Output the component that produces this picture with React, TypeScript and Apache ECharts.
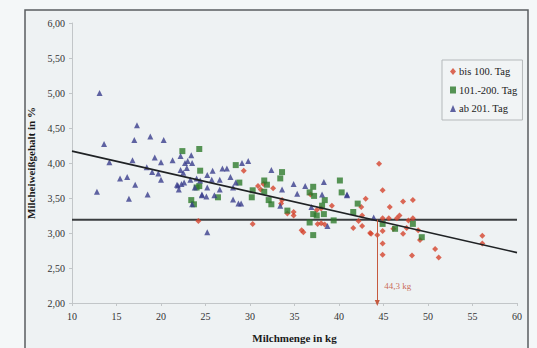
import React, { useEffect, useRef } from "react";
import * as echarts from "echarts";

const xTicks = { min: 10, max: 60, interval: 5 };
const yTicks = { min: 2, max: 6, interval: 0.5 };

const seriesNames = ["bis 100. Tag", "101.-200. Tag", "ab 201. Tag"];

const early: number[][] = [
  [24.2, 3.17], [29.3, 3.89], [30.3, 3.13], [30.9, 3.67], [31.2, 3.62], [31.5, 3.7], [32.6, 3.64],
  [33.6, 3.47], [33.5, 3.42], [34.2, 3.28], [34.9, 3.3], [34.9, 3.25], [35.8, 3.04], [36.0, 3.01],
  [36.8, 3.55], [37.5, 3.33], [38.0, 3.35], [39.2, 3.39], [37.6, 3.13], [38.0, 3.14], [38.4, 3.12],
  [41.6, 3.07], [42.6, 3.1], [42.5, 3.37], [43.0, 3.49], [42.6, 3.25], [42.2, 3.17], [43.5, 3.0],
  [43.6, 2.99], [44.3, 2.97], [44.5, 3.99], [44.9, 3.61], [44.9, 3.03], [44.9, 2.85], [44.9, 2.69],
  [44.9, 3.21], [45.6, 3.21], [45.7, 3.37], [46.1, 3.06], [46.5, 3.21], [46.8, 3.25], [47.2, 3.45],
  [47.2, 2.99], [47.6, 3.07], [47.8, 3.18], [48.2, 2.68], [48.3, 3.47], [48.3, 3.21], [48.9, 3.04],
  [49.1, 2.9], [50.8, 2.77], [51.2, 2.65], [56.1, 2.96], [56.1, 2.85],
];

const mid: number[][] = [
  [22.4, 4.17], [24.3, 4.2], [24.4, 3.89], [24.3, 3.67], [24.0, 3.65], [23.4, 3.47], [23.7, 3.41],
  [26.4, 3.51], [28.4, 3.97], [28.8, 3.72], [30.2, 3.51], [30.3, 3.61], [31.6, 3.75], [31.9, 3.69],
  [31.6, 3.59], [32.1, 3.47], [32.4, 3.41], [33.6, 3.87], [33.4, 3.78], [34.2, 3.32], [36.7, 3.58],
  [37.1, 3.66], [37.2, 3.53], [38.4, 3.47], [38.1, 3.39], [37.1, 3.27], [37.5, 3.25], [38.3, 3.27],
  [36.7, 3.15], [39.4, 3.18], [40.1, 3.75], [40.3, 3.58], [42.1, 3.42], [37.1, 2.97], [41.6, 3.3],
  [44.9, 3.13], [46.3, 3.06], [48.3, 3.13], [49.3, 2.94],
];

const late: number[][] = [
  [13.1, 5.0], [13.6, 4.27], [14.2, 4.01], [17.3, 4.54], [17.0, 4.33], [18.8, 4.38], [20.3, 4.33],
  [16.8, 4.04], [19.3, 4.08], [20.0, 4.01], [21.3, 4.04], [18.4, 3.94], [19.0, 3.87], [19.7, 3.85],
  [12.8, 3.59], [15.4, 3.78], [16.2, 3.8], [16.4, 3.49], [17.1, 3.69], [18.5, 3.55], [20.0, 3.76],
  [22.2, 4.1], [23.4, 4.11], [22.7, 4.0], [23.0, 4.03], [23.5, 4.0], [22.2, 3.9], [22.9, 3.93],
  [22.5, 3.86], [23.3, 3.76], [21.9, 3.68], [22.0, 3.62], [22.6, 3.72], [21.8, 3.69], [22.3, 3.7],
  [23.8, 3.65], [24.6, 3.55], [25.1, 3.52], [25.2, 3.83], [25.8, 3.89], [26.9, 3.92], [27.4, 3.92],
  [29.1, 4.0], [29.8, 4.03], [27.8, 3.8], [26.6, 3.76], [25.7, 3.76], [25.2, 3.65], [26.6, 3.62],
  [24.6, 3.54], [26.0, 3.54], [28.1, 3.48], [28.7, 3.42], [29.0, 3.42], [23.5, 3.41], [25.2, 3.01],
  [28.1, 3.65], [28.4, 3.72], [32.4, 3.9], [33.6, 3.62], [34.9, 3.7], [35.3, 3.56], [36.2, 3.67],
  [38.3, 3.73], [38.1, 3.55], [40.9, 3.55], [33.4, 3.39], [36.9, 3.37], [38.7, 3.1], [40.9, 3.54],
  [43.9, 3.22], [24.0, 3.78], [24.4, 3.75],
];

const regression: number[][] = [[10, 4.17], [60, 2.72]];
const thresholdY = 3.19;
const crossX = 44.3;
const crossLabel = "44,3 kg";
const labelPoint: number[] = [44.3, 2.24];

const FONT = "'Liberation Serif', 'DejaVu Serif', serif";

export default function App() {
  const ref = useRef<HTMLDivElement>(null);
  useEffect(() => {
    if (!ref.current) return;
    const chart = echarts.init(ref.current, null, { renderer: "svg" });
    const fmt = (v: number) => v.toFixed(2).replace(".", ",");
    chart.setOption({
      animation: false,
      backgroundColor: "#f4f7f8",
      textStyle: { fontFamily: FONT },
      graphic: [
        {
          type: "rect",
          z: -10,
          silent: true,
          shape: { x: 25, y: 10, width: 503, height: 360 },
          style: { fill: "#eef2f3", stroke: "#5a5e60", lineWidth: 1.5 },
        },
      ],
      grid: { left: 72, right: 20, top: 23, bottom: 41 },
      legend: {
        data: seriesNames,
        orient: "vertical",
        left: 442,
        top: 60,
        width: 76,
        padding: [6, 5, 6, 8],
        itemWidth: 6,
        itemHeight: 7,
        itemGap: 7.5,
        backgroundColor: "#f1f4f5",
        borderColor: "#b5b9bb",
        borderWidth: 1,
        borderRadius: 0,
        textStyle: { fontFamily: FONT, fontSize: 10.5, color: "#222", lineHeight: 10.5, padding: [0, 0, 0, -2] },
      },
      xAxis: {
        type: "value",
        min: xTicks.min,
        max: xTicks.max,
        interval: xTicks.interval,
        name: "Milchmenge in kg",
        nameLocation: "middle",
        nameGap: 29,
        nameTextStyle: { fontFamily: FONT, fontSize: 11, fontWeight: "bold", color: "#1a1a1a" },
        axisLine: { lineStyle: { color: "#c2c6c8" } },
        axisTick: { show: true, length: 3, lineStyle: { color: "#c2c6c8" } },
        axisLabel: { fontFamily: FONT, fontSize: 10, color: "#333", margin: 8 },
        splitLine: { show: false },
      },
      yAxis: {
        type: "value",
        min: yTicks.min,
        max: yTicks.max,
        interval: yTicks.interval,
        name: "Milcheiweißgehalt in %",
        nameLocation: "middle",
        nameGap: 34,
        nameTextStyle: { fontFamily: FONT, fontSize: 11, fontWeight: "bold", color: "#1a1a1a" },
        axisLine: { show: true, lineStyle: { color: "#c2c6c8" } },
        axisTick: { show: true, length: 3, lineStyle: { color: "#c2c6c8" } },
        axisLabel: { fontFamily: FONT, fontSize: 10, color: "#333", margin: 7, formatter: fmt },
        splitLine: { show: false },
      },
      series: [
        {
          name: "threshold",
          type: "line",
          data: [[xTicks.min, thresholdY], [xTicks.max, thresholdY]],
          symbol: "none",
          lineStyle: { color: "#3a3d3f", width: 2 },
          silent: true,
          z: 1,
          markLine: {
            silent: true,
            symbol: ["none", "triangle"],
            symbolSize: [5, 6],
            label: { show: false },
            lineStyle: { color: "#c55a3f", width: 1, type: "solid" },
            data: [[{ coord: [crossX, thresholdY] }, { coord: [crossX, yTicks.min] }]],
          },
        },
        {
          name: "regression",
          type: "line",
          data: regression,
          symbol: "none",
          lineStyle: { color: "#1f2224", width: 1.6 },
          silent: true,
          z: 4,
        },
        {
          name: seriesNames[0],
          type: "scatter",
          data: early,
          symbol: "diamond",
          symbolSize: 6,
          itemStyle: { color: "#d4432d" },
          z: 3,
        },
        {
          name: seriesNames[1],
          type: "scatter",
          data: mid,
          symbol: "rect",
          symbolSize: 6,
          itemStyle: { color: "#2e7a2c" },
          z: 3,
        },
        {
          name: seriesNames[2],
          type: "scatter",
          data: late,
          symbol: "triangle",
          symbolSize: 6,
          itemStyle: { color: "#3a3d8c" },
          z: 3,
        },
        {
          name: "label",
          type: "scatter",
          data: [labelPoint],
          symbolSize: 0,
          silent: true,
          label: {
            show: true,
            formatter: crossLabel,
            position: "right",
            distance: 7,
            fontFamily: FONT,
            fontSize: 9,
            color: "#c0462e",
          },
        },
      ],
    });
    return () => chart.dispose();
  }, []);
  return <div ref={ref} style={{ position: "fixed", left: 0, top: 0, width: 537, height: 348 }} />;
}
